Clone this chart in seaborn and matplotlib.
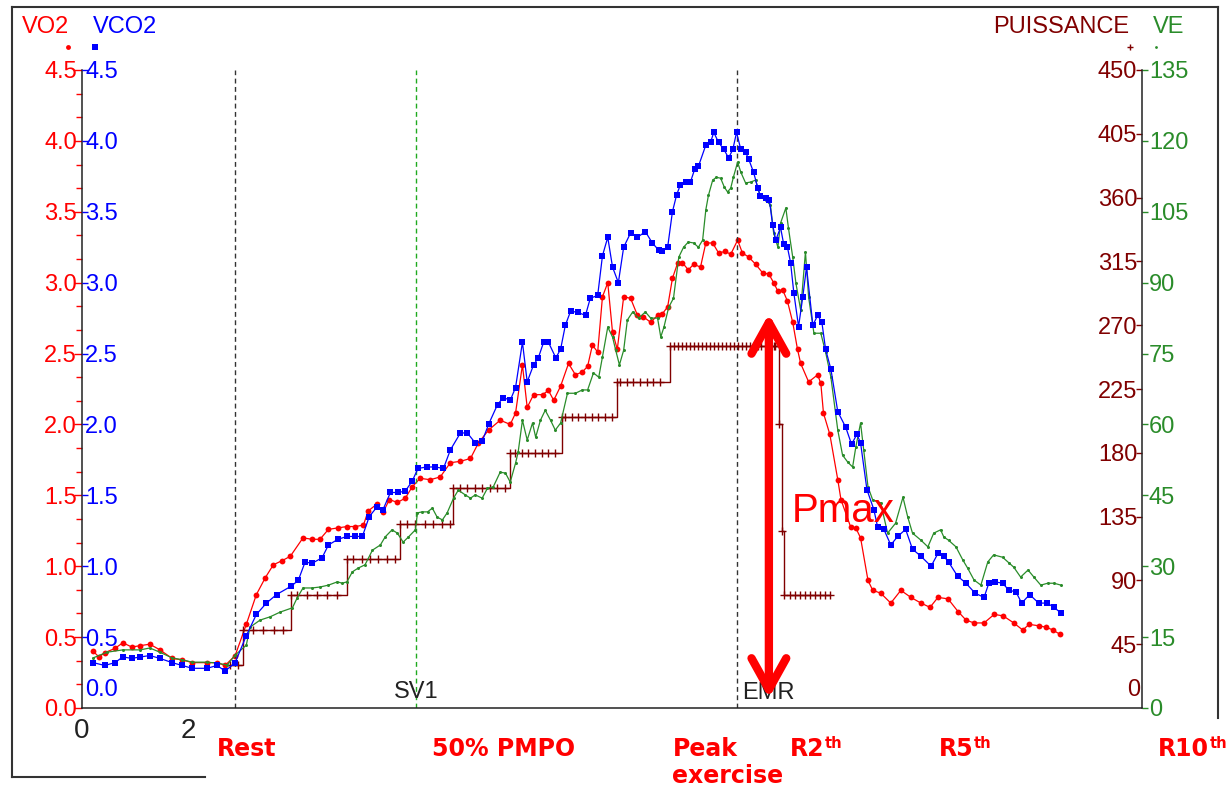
import numpy as np
import matplotlib
matplotlib.use("Agg")
import matplotlib.pyplot as plt
import seaborn as sns
from matplotlib.ticker import MultipleLocator, FixedLocator
from matplotlib.lines import Line2D
from matplotlib.transforms import offset_copy

# ---------------------------------------------------------------- data
# time in minutes
vo2_t = [0.21, 0.32, 0.43, 0.62, 0.77, 0.94, 1.10, 1.28, 1.47, 1.70, 1.89, 2.08, 2.36, 2.55, 2.70,
         2.89, 3.10, 3.29, 3.46, 3.61, 3.78, 3.93, 4.17, 4.34, 4.49, 4.65, 4.83, 5.00, 5.16, 5.31,
         5.40, 5.57, 5.68, 5.80, 5.95, 6.10, 6.23, 6.38, 6.57, 6.76, 6.95, 7.14, 7.33, 7.48, 7.67,
         7.89, 8.08, 8.18, 8.31, 8.40, 8.52, 8.69, 8.80, 8.90, 9.03, 9.18, 9.31, 9.44, 9.54, 9.63,
         9.73, 9.82, 9.92, 10.01, 10.10, 10.22, 10.35, 10.48, 10.59, 10.73, 10.86, 10.95, 11.05,
         11.14, 11.24, 11.33, 11.44, 11.54, 11.67, 11.77, 11.90, 12.01, 12.14, 12.24, 12.37, 12.46,
         12.58, 12.71, 12.84, 12.96, 13.05, 13.13, 13.22, 13.31, 13.41, 13.50, 13.56, 13.71, 13.88,
         13.94, 13.99, 14.11, 14.26, 14.32, 14.50, 14.60, 14.69, 14.83, 14.92, 15.07, 15.26, 15.45,
         15.64, 15.83, 16.00, 16.15, 16.34, 16.53, 16.68, 16.83, 17.02, 17.21, 17.38, 17.58, 17.75,
         17.87, 18.05, 18.19, 18.32, 18.45]
vo2 = [0.40, 0.36, 0.39, 0.42, 0.46, 0.43, 0.44, 0.45, 0.41, 0.35, 0.34, 0.32, 0.32, 0.32, 0.30,
       0.37, 0.59, 0.80, 0.92, 1.01, 1.04, 1.07, 1.20, 1.19, 1.19, 1.26, 1.27, 1.28, 1.28, 1.29,
       1.39, 1.44, 1.38, 1.47, 1.45, 1.48, 1.56, 1.62, 1.61, 1.63, 1.73, 1.74, 1.76, 1.87, 1.96,
       2.03, 2.00, 2.08, 2.42, 2.12, 2.21, 2.21, 2.24, 2.17, 2.27, 2.43, 2.35, 2.37, 2.41, 2.56,
       2.51, 2.90, 3.00, 2.65, 2.53, 2.90, 2.89, 2.77, 2.76, 2.72, 2.77, 2.78, 2.83,
       3.03, 3.14, 3.14, 3.09, 3.13, 3.11, 3.28, 3.28, 3.21, 3.22, 3.20, 3.30, 3.21,
       3.18, 3.13, 3.07, 3.06, 3.00, 2.94, 2.95, 2.87, 2.72, 2.53, 2.43, 2.30, 2.35,
       2.29, 2.08, 1.93, 1.61, 1.47, 1.28, 1.27, 1.20, 0.90, 0.83, 0.81, 0.74, 0.83,
       0.78, 0.74, 0.71, 0.78, 0.77, 0.68, 0.62, 0.60, 0.60, 0.66, 0.65, 0.60, 0.55,
       0.59, 0.58, 0.57, 0.55, 0.52]

vco2_t = [0.21, 0.43, 0.62, 0.77, 0.94, 1.10, 1.28, 1.47, 1.70, 1.89, 2.08, 2.36, 2.55, 2.70, 2.89,
          3.10, 3.29, 3.48, 3.67, 3.95, 4.08, 4.21, 4.34, 4.53, 4.65, 4.83, 5.00, 5.16, 5.29, 5.42,
          5.57, 5.68, 5.82, 5.97, 6.10, 6.23, 6.34, 6.51, 6.66, 6.82, 6.95, 7.14, 7.27, 7.42, 7.55,
          7.67, 7.84, 7.95, 8.08, 8.18, 8.31, 8.40, 8.52, 8.61, 8.71, 8.80, 8.94, 9.03, 9.12, 9.22,
          9.35, 9.50, 9.59, 9.73, 9.82, 9.92, 10.01, 10.12, 10.22, 10.35, 10.48, 10.63, 10.76, 10.88,
          10.95, 11.05, 11.14, 11.22, 11.29, 11.39, 11.48, 11.56, 11.63, 11.77, 11.86, 11.92, 12.01,
          12.11, 12.20, 12.28, 12.35, 12.43, 12.52, 12.58, 12.67, 12.75, 12.80, 12.90, 12.97, 13.03,
          13.09, 13.18, 13.24, 13.31, 13.37, 13.43, 13.52, 13.60, 13.67, 13.79, 13.88, 13.96, 14.03,
          14.13, 14.26, 14.41, 14.52, 14.62, 14.69, 14.81, 14.94, 15.01, 15.13, 15.26, 15.39, 15.54,
          15.67, 15.83, 16.02, 16.15, 16.26, 16.35, 16.52, 16.68, 16.85, 17.02, 17.11, 17.22, 17.37,
          17.49, 17.62, 17.73, 17.88, 18.05, 18.21, 18.34, 18.47]
vco2 = [0.32, 0.30, 0.32, 0.36, 0.35, 0.36, 0.37, 0.35, 0.32, 0.30, 0.28, 0.28, 0.30, 0.26, 0.32,
        0.51, 0.66, 0.74, 0.80, 0.86, 0.90, 1.03, 1.02, 1.06, 1.15, 1.19, 1.21, 1.21, 1.21, 1.35,
        1.42, 1.40, 1.52, 1.52, 1.53, 1.60, 1.69, 1.70, 1.70, 1.69, 1.82, 1.94, 1.94, 1.87, 1.88,
        2.00, 2.14, 2.19, 2.17, 2.26, 2.58, 2.30, 2.42, 2.47, 2.58, 2.58, 2.47, 2.53, 2.70, 2.80,
        2.79, 2.77, 2.89, 2.91, 3.19, 3.32, 3.11, 3.00, 3.25, 3.35, 3.32, 3.36, 3.28, 3.23,
        3.22, 3.25, 3.50, 3.62, 3.69, 3.71, 3.71, 3.80, 3.82, 3.97, 3.99, 4.06, 3.99,
        3.94, 3.88, 3.94, 4.06, 3.94, 3.92, 3.87, 3.78, 3.67, 3.61, 3.60, 3.58, 3.41,
        3.30, 3.39, 3.27, 3.25, 3.14, 2.93, 2.69, 2.90, 3.11, 2.70, 2.77, 2.72, 2.53,
        2.39, 2.09, 1.98, 1.86, 1.93, 1.87, 1.54, 1.40, 1.28, 1.26, 1.15, 1.21, 1.26,
        1.12, 1.07, 1.00, 1.09, 1.07, 1.03, 0.93, 0.88, 0.81, 0.78, 0.88, 0.89, 0.88,
        0.83, 0.82, 0.74, 0.80, 0.74, 0.74, 0.71, 0.67]

ve_t = [0.21, 0.47, 0.77, 1.10, 1.28, 1.47, 1.70, 1.89, 2.08, 2.36, 2.55, 2.74, 2.89, 3.10, 3.17,
        3.36, 3.55, 3.74, 3.97, 4.06, 4.17, 4.34, 4.49, 4.65, 4.82, 4.91, 5.00, 5.10, 5.21, 5.34,
        5.48, 5.63, 5.72, 5.85, 5.95, 6.06, 6.16, 6.29, 6.33, 6.42, 6.52, 6.61, 6.70, 6.80, 6.89,
        7.01, 7.10, 7.23, 7.33, 7.42, 7.55, 7.65, 7.76, 7.89, 7.99, 8.08, 8.18, 8.23, 8.31, 8.40,
        8.50, 8.56, 8.65, 8.74, 8.84, 8.93, 9.03, 9.16, 9.31, 9.44, 9.54, 9.65, 9.75, 9.82, 9.92,
        10.01, 10.07, 10.14, 10.22, 10.29, 10.39, 10.50, 10.63, 10.73, 10.86, 10.92, 10.98, 11.07,
        11.16, 11.26, 11.35, 11.44, 11.54, 11.63, 11.71, 11.77, 11.82, 11.90, 11.97, 12.05, 12.12,
        12.18, 12.24, 12.29, 12.37, 12.43, 12.52, 12.62, 12.71, 12.80, 12.90, 12.99, 13.05, 13.13,
        13.18, 13.28, 13.33, 13.41, 13.47, 13.56, 13.65, 13.71, 13.81, 13.94, 14.03, 14.13, 14.26,
        14.35, 14.45, 14.54, 14.60, 14.69, 14.75, 14.83, 14.92, 15.07, 15.20, 15.35, 15.49, 15.58,
        15.67, 15.83, 15.96, 16.07, 16.20, 16.26, 16.35, 16.49, 16.62, 16.71, 16.83, 16.96, 17.09,
        17.20, 17.37, 17.49, 17.58, 17.71, 17.85, 17.96, 18.09, 18.22, 18.34, 18.47]
ve = [10.6, 11.8, 12.3, 12.3, 12.7, 11.8, 10.6, 10.2, 9.7, 9.7, 9.5, 9.1, 11.2, 13.3, 17.1,
      18.6, 19.3, 20.3, 21.2, 23.3, 25.4, 25.4, 25.6, 26.0, 26.7, 26.4, 26.7, 28.8, 29.6, 30.3,
      33.4, 34.5, 36.2, 37.7, 37.0, 35.1, 36.2, 37.7, 41.3, 41.5, 41.5, 42.3, 40.4, 39.8, 41.3,
      44.4, 46.1, 45.1, 44.4, 45.1, 44.4, 46.5, 46.8, 49.9, 49.7, 47.8, 51.8, 54.2, 60.9, 56.7,
      60.3, 57.3, 60.9, 63.0, 60.9, 58.8, 60.3, 66.6, 66.6, 67.3, 67.3, 70.9, 70.0, 74.3, 80.6,
      78.5, 75.7, 72.6, 75.7, 82.1, 83.8, 82.5, 83.8, 82.5, 82.5, 78.5, 80.6, 84.8,
      86.7, 95.4, 97.5, 98.6, 98.4, 97.5, 99.0, 105.4, 108.5, 111.7, 112.3, 112.1, 110.2,
      109.2, 110.0, 112.3, 115.5, 113.4, 111.1, 111.3, 111.7, 108.1, 107.5, 106.4, 100.5, 97.5,
      102.6, 105.8, 101.5, 95.4, 89.9, 84.2, 96.5, 86.9, 79.3, 79.3, 75.3, 70.0, 58.8,
      53.5, 52.0, 51.0, 55.2, 60.3, 54.6, 46.8, 44.0, 43.4, 37.0, 39.1, 44.6, 40.4,
      37.0, 35.5, 34.1, 37.0, 37.7, 36.2, 35.5, 34.1, 31.3, 29.6, 27.1, 26.0, 30.9,
      32.4, 31.9, 30.7, 29.8, 27.7, 29.2, 27.7, 26.0, 26.4, 26.4, 26.0]

# power (W) at each recorded sample
pw_t = [2.80, 2.95,
        3.04, 3.23, 3.42, 3.62, 3.79,
        3.94, 4.06, 4.25, 4.43, 4.62, 4.81,
        5.00, 5.11, 5.28, 5.43, 5.58, 5.75, 5.91,
        6.00, 6.13, 6.28, 6.47, 6.62, 6.79, 6.94,
        7.00, 7.13, 7.26, 7.42, 7.55, 7.70, 7.83, 7.98,
        8.08, 8.17, 8.30, 8.42, 8.55, 8.68, 8.79, 8.92,
        9.06, 9.11, 9.25, 9.36, 9.49, 9.62, 9.74, 9.87, 10.00,
        10.09, 10.15, 10.28, 10.40, 10.53, 10.66, 10.77, 10.91,
        11.09, 11.17, 11.24, 11.32, 11.40, 11.47, 11.55, 11.62, 11.70, 11.77, 11.85, 11.92,
        12.00, 12.07, 12.15, 12.22, 12.30, 12.37, 12.45, 12.52, 12.60, 12.67, 12.75, 12.82,
        12.90, 12.97, 13.05, 13.08,
        13.15, 13.21,
        13.24, 13.36, 13.45, 13.55, 13.64, 13.74, 13.83, 13.92, 14.02, 14.11]
pw = [30, 30,
      55, 55, 55, 55, 55,
      80, 80, 80, 80, 80, 80,
      105, 105, 105, 105, 105, 105, 105,
      130, 130, 130, 130, 130, 130, 130,
      155, 155, 155, 155, 155, 155, 155, 155,
      180, 180, 180, 180, 180, 180, 180, 180,
      205, 205, 205, 205, 205, 205, 205, 205, 205,
      230, 230, 230, 230, 230, 230, 230, 230,
      255, 255, 255, 255, 255, 255, 255, 255, 255, 255, 255, 255,
      255, 255, 255, 255, 255, 255, 255, 255, 255, 255, 255, 255,
      255, 255, 255, 255,
      200, 125,
      80, 80, 80, 80, 80, 80, 80, 80, 80, 80]

vo2_ticks = [0.0, 0.5, 1.0, 1.5, 2.0, 2.5, 3.0, 3.5, 4.0, 4.5]
pw_ticks = [45, 90, 135, 180, 225, 270, 315, 360, 405, 450]
ve_ticks = [0, 15, 30, 45, 60, 75, 90, 105, 120, 135]
x_ticks = [0, 2, 4, 6, 8, 10, 12, 14, 16, 18, 20]
x_ticklabels = ["0", "2"] + [""] * 9

markers_t = {"SV1": 6.30, "EMR": 12.36, "start": 2.89}
pmax_t = 12.96

# label, left edge (px), superscript
phase_labels = [("Rest", 217, ""), ("50% PMPO", 432, ""), ("Peak", 673, ""),
                ("R2", 790, "th"), ("R5", 939, "th"), ("R10", 1158, "th")]

# ---------------------------------------------------------------- style
sns.set_style("white")
plt.rcParams["font.family"] = ["Liberation Sans", "DejaVu Sans"]

RED = "#ff0000"
BLUE = "#0000ff"
GREEN = "#2a8c2a"
MAROON = "#800000"
INK = "#222222"

W, H = 1232, 787
fig = plt.figure(figsize=(W / 100, H / 100), dpi=100)
fig.patch.set_facecolor("white")


def fx(px):
    return px / W


def fy(py):
    return 1 - py / H


ax = fig.add_axes([fx(82), fy(708), 1060 / W, 638 / H])
ax_pw = ax.twinx()
ax_ve = ax.twinx()
ax_co2 = ax.twinx()

# ---------------------------------------------------------------- series
sns.lineplot(x=vo2_t, y=vo2, ax=ax, color=RED, lw=0.9, marker="o", markersize=4.2,
             markeredgecolor=RED, markeredgewidth=0, estimator=None, sort=False, legend=False)
sns.lineplot(x=pw_t, y=pw, ax=ax_pw, color=MAROON, lw=1.0, marker="+", markersize=5.5,
             markeredgecolor=MAROON, markeredgewidth=1.0, drawstyle="steps-post",
             estimator=None, sort=False, legend=False)
sns.lineplot(x=ve_t, y=ve, ax=ax_ve, color=GREEN, lw=0.9, marker="o", markersize=2.2,
             markeredgecolor=GREEN, markeredgewidth=0, estimator=None, sort=False, legend=False)
sns.lineplot(x=vco2_t, y=vco2, ax=ax_co2, color=BLUE, lw=0.9, marker="s", markersize=4.6,
             markeredgecolor=BLUE, markeredgewidth=0, estimator=None, sort=False, legend=False)

for a in (ax, ax_pw, ax_ve, ax_co2):
    a.set_xlim(0, 20)
    a.set_xlabel("")
    a.set_ylabel("")
    for s in a.spines.values():
        s.set_visible(False)

ax.set_ylim(0, 4.5)
ax_co2.set_ylim(0, 4.5)
ax_pw.set_ylim(0, 450)
ax_ve.set_ylim(0, 135)

# ---------------------------------------------------------------- axes
ax.spines["left"].set_visible(True)
ax.spines["bottom"].set_visible(True)
for s in ("left", "bottom"):
    ax.spines[s].set_color(INK)
    ax.spines[s].set_linewidth(1.1)
ax_ve.spines["right"].set_visible(True)
ax_ve.spines["right"].set_color(INK)
ax_ve.spines["right"].set_linewidth(1.1)

ax.xaxis.set_major_locator(FixedLocator(x_ticks))
ax.set_xticklabels(x_ticklabels)
ax.xaxis.set_minor_locator(MultipleLocator(2 / 3))
ax.tick_params(axis="x", which="major", direction="out", length=6.5, width=1, color=INK,
               labelsize=20, labelcolor=INK, pad=0.5)
ax.tick_params(axis="x", which="minor", direction="out", length=4.3, width=1, color=INK)

ax.yaxis.set_major_locator(FixedLocator(vo2_ticks))
ax.set_yticklabels([f"{v:.1f}" for v in vo2_ticks])
ax.yaxis.set_minor_locator(MultipleLocator(0.5 / 3))
ax.tick_params(axis="y", which="both", colors=RED, direction="out", width=1)
ax.tick_params(axis="y", which="major", length=5.5, labelsize=17, pad=-1.9)
ax.tick_params(axis="y", which="minor", length=4.3)

# VCO2 scale drawn just right of the left spine
ax_co2.spines["right"].set_position(("axes", 0))
ax_co2.yaxis.set_ticks_position("right")
ax_co2.yaxis.set_major_locator(FixedLocator(vo2_ticks[1:]))
ax_co2.set_yticklabels([f"{v:.1f}" for v in vo2_ticks[1:]])
ax_co2.tick_params(axis="y", colors=BLUE, direction="out", length=4.5, width=1,
                   labelsize=17, pad=-2.2)
ax_co2.annotate("0.0", xy=(0, 0), xycoords=("axes fraction", "data"), xytext=(2.2, 13),
                textcoords="offset points", color=BLUE, fontsize=17, ha="left", va="center")

# Power scale drawn just left of the right spine
ax_pw.spines["left"].set_position(("axes", 1.0))
ax_pw.yaxis.set_ticks_position("left")
ax_pw.yaxis.set_major_locator(FixedLocator(pw_ticks))
ax_pw.set_yticklabels([str(v) for v in pw_ticks])
ax_pw.tick_params(axis="y", colors=MAROON, direction="out", length=4.3, width=1,
                  labelsize=17, pad=-0.8)
ax_pw.annotate("0", xy=(1, 0), xycoords=("axes fraction", "data"), xytext=(-1.5, 13),
               textcoords="offset points", color=MAROON, fontsize=17, ha="right", va="center")

ax_ve.yaxis.set_major_locator(FixedLocator(ve_ticks))
ax_ve.set_yticklabels([str(v) for v in ve_ticks])
ax_ve.tick_params(axis="y", colors=GREEN, direction="out", length=4.5, width=1,
                  labelsize=17, pad=0.5)

# ---------------------------------------------------------------- event lines
ax.axvline(markers_t["start"], color="#333333", lw=1, ls=(0, (3.5, 2.5)))
ax.axvline(markers_t["SV1"], color="#1faa1f", lw=1, ls=(0, (3.5, 2.5)))
ax.axvline(markers_t["EMR"], color="#333333", lw=1, ls=(0, (3.5, 2.5)))
ax.text(markers_t["SV1"], 0.07, "SV1", color=INK, fontsize=17, ha="center", va="baseline")
ax.annotate("EMR", xy=(markers_t["EMR"], 0.065), xytext=(3.6, 0), textcoords="offset points",
            color=INK, fontsize=17, ha="left", va="baseline")

# Pmax double arrow and label
ax_co2.annotate("", xy=(pmax_t, 0.07), xytext=(pmax_t, 2.78),
                arrowprops=dict(arrowstyle="<->,head_length=0.45,head_width=0.25",
                                lw=6, color=RED, mutation_scale=50, shrinkA=0, shrinkB=0,
                                capstyle="round", joinstyle="round"))
ax_co2.text(13.4, 1.31, "Pmax", color=RED, fontsize=29, ha="left", va="baseline")

# ---------------------------------------------------------------- header legend
fig.text(fx(22), fy(33), "VO2", color=RED, fontsize=17, va="baseline")
fig.text(fx(93), fy(33), "VCO2", color=BLUE, fontsize=17, va="baseline")
fig.text(fx(993), fy(33), "PUISSANCE", color=MAROON, fontsize=17, va="baseline")
fig.text(fx(1153), fy(33), "VE", color=GREEN, fontsize=17, va="baseline")
for px, mk, col, ms, mew in [(68, "o", RED, 3.5, 0), (95, "s", BLUE, 4.2, 0),
                             (1130, "+", MAROON, 5, 1.0), (1156, "o", GREEN, 2.0, 0)]:
    fig.add_artist(Line2D([fx(px)], [fy(47)], transform=fig.transFigure, marker=mk, color=col,
                          markersize=ms, markeredgewidth=mew, markeredgecolor=col, linestyle=""))

# ---------------------------------------------------------------- frame
for (x0, y0, x1, y1) in [(12, 7, 1218, 7), (12, 7, 12, 777), (12, 777, 205, 777),
                         (1218, 7, 1218, 718)]:
    fig.add_artist(Line2D([fx(x0), fx(x1)], [fy(y0), fy(y1)], transform=fig.transFigure,
                          color="#333333", lw=1.5, solid_capstyle="projecting"))

# ---------------------------------------------------------------- phase labels
bold = dict(color=RED, fontsize=17, fontweight="bold", family="DejaVu Sans", va="baseline")
renderer = fig.canvas.get_renderer()
for text, px, sup in phase_labels:
    t = fig.text(fx(px), fy(756), text, **bold)
    if sup:
        x_end = t.get_window_extent(renderer).x1 / W
        fig.text(x_end + 0.5 / W, fy(748), sup, color=RED, fontsize=10.5, fontweight="bold",
                 family="DejaVu Sans", va="baseline")
fig.text(fx(672), fy(783), "exercise", **bold)

fig.savefig("out.png", dpi=100)
